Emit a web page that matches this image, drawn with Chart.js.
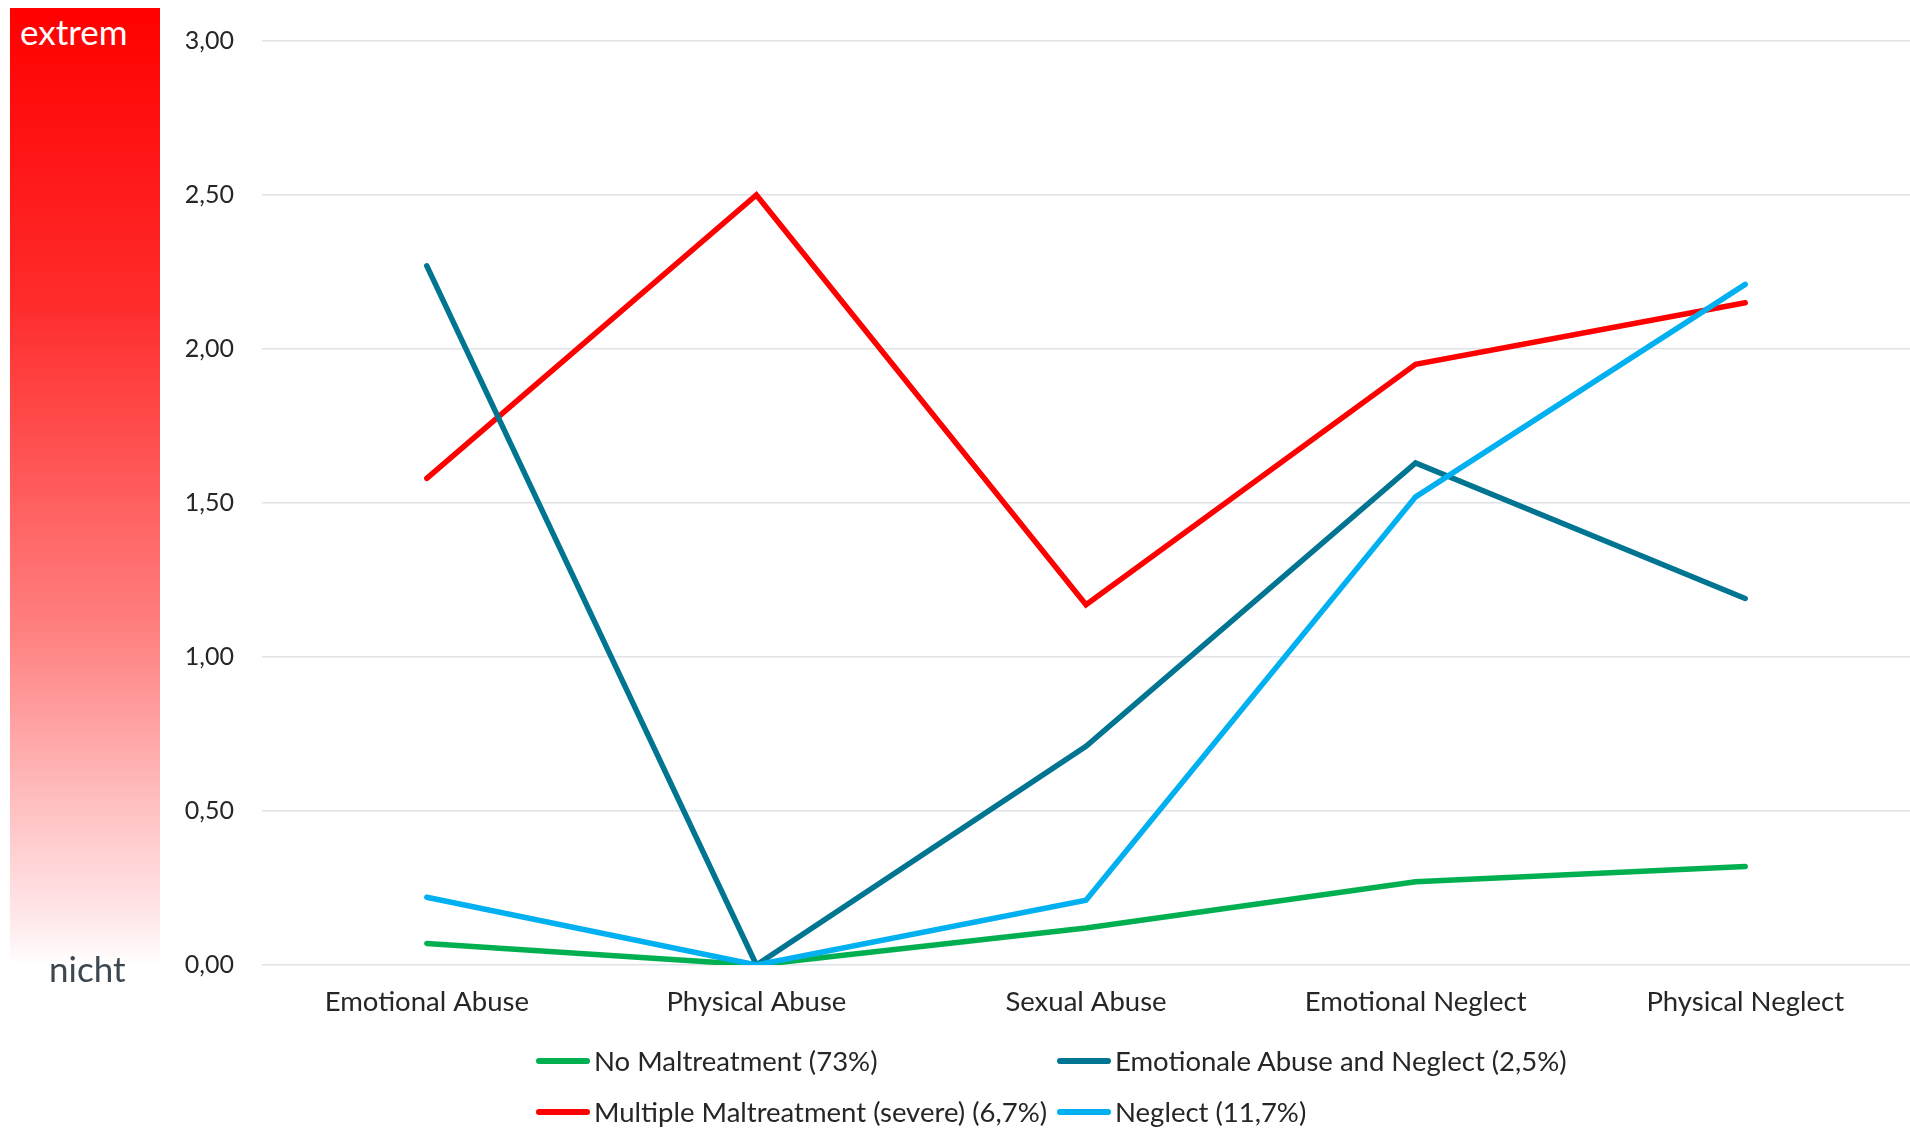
<!DOCTYPE html>
<html>
<head>
<meta charset="utf-8">
<script src="https://cdn.jsdelivr.net/npm/chart.js@4"></script>
<style>
  body { margin: 0; background: #fff; }
  #wrap { position: relative; width: 1910px; height: 1130px; }
  #scale { position: absolute; left: 10px; top: 8px; width: 150px; height: 958px;
           background: linear-gradient(to bottom, #ff0000 0%, #ff2a2a 30%, #ff8080 65%, #ffe8ea 95%, #fff 100%); }
  #top { position: absolute; left: 20px; top: 10px; color: #fff; font: 35px Lato, sans-serif; }
  #bottom { position: absolute; left: 49px; top: 947px; color: #3d4750; font: 35px Lato, sans-serif; }
  .leg { position: absolute; display: flex; align-items: center; font: 27.5px Lato, sans-serif; color: #262626; white-space: nowrap; }
  .leg span.ln { display: inline-block; width: 54px; height: 6px; border-radius: 3px; margin-right: 4px; }
</style>
</head>
<body>
<div id="wrap">
  <canvas id="lineChart" width="1910" height="1130"></canvas>
  <div id="scale"></div>
  <div id="top">extrem</div>
  <div id="bottom">nicht</div>
</div>
<script>
const categories = ['Emotional Abuse', 'Physical Abuse', 'Sexual Abuse', 'Emotional Neglect', 'Physical Neglect']

const noMaltreatment = [0.07, 0.00, 0.12, 0.27, 0.32]
const emotionalAbuseNeglect = [2.27, 0.00, 0.71, 1.63, 1.19]
const multipleSevere = [1.58, 2.50, 1.17, 1.95, 2.15]
const neglect = [0.22, 0.00, 0.21, 1.52, 2.21]

const seriesNames = [
  'No Maltreatment (73%)',
  'Emotionale Abuse and Neglect (2,5%)',
  'Multiple Maltreatment (severe) (6,7%)',
  'Neglect (11,7%)'
]
const seriesColors = ['#00b050', '#007592', '#ff0000', '#00b0f0']
const seriesValues = [noMaltreatment, emotionalAbuseNeglect, multipleSevere, neglect]

// draw order: light blue under the others like the reference
const drawOrder = [3, 1, 2, 0]

const data = {
  labels: categories,
  datasets: seriesNames.map((name, i) => ({
    label: name,
    data: seriesValues[i],
    borderColor: seriesColors[i],
    backgroundColor: seriesColors[i],
    borderWidth: 5.5,
    borderCapStyle: 'round',
    borderJoinStyle: 'miter',
    pointRadius: 0,
    tension: 0,
    fill: false,
    order: drawOrder[i]
  }))
}

const config = {
  type: 'line',
  data: data,
  options: {
    responsive: false,
    animation: false,
    devicePixelRatio: 1,
    layout: { padding: { left: 162, top: 41, right: 0, bottom: 105 } },
    plugins: { legend: { display: false }, tooltip: { enabled: false } },
    scales: {
      x: {
        offset: true,
        grid: { display: false },
        border: { display: false },
        ticks: { color: '#262626', padding: 13, font: { family: 'Lato', size: 27.5 } },
        afterFit: axis => { axis.height = 60 }
      },
      y: {
        min: 0,
        max: 3,
        grid: { color: '#dfe2e6', lineWidth: 1.5, drawTicks: false },
        border: { display: false },
        ticks: {
          stepSize: 0.5,
          padding: 28,
          color: '#262626',
          font: { family: 'Lato', size: 25 },
          callback: v => v.toFixed(2).replace('.', ',')
        },
        afterFit: axis => {
          axis.width = 100
          axis.paddingTop = 0
          axis.paddingBottom = 0
        }
      }
    }
  }
}

const lineChart = new Chart(document.getElementById('lineChart'), config)

// legend laid out in two columns like the original
const legendPos = [[536, 1044], [1057, 1044], [536, 1095], [1057, 1095]]
seriesNames.forEach((name, i) => {
  let item = document.createElement('div')
  item.className = 'leg'
  item.style.left = legendPos[i][0] + 'px'
  item.style.top = legendPos[i][1] + 'px'
  item.innerHTML = '<span class="ln" style="background:' + seriesColors[i] + '"></span>' + name
  document.getElementById('wrap').append(item)
})
</script>
</body>
</html>
